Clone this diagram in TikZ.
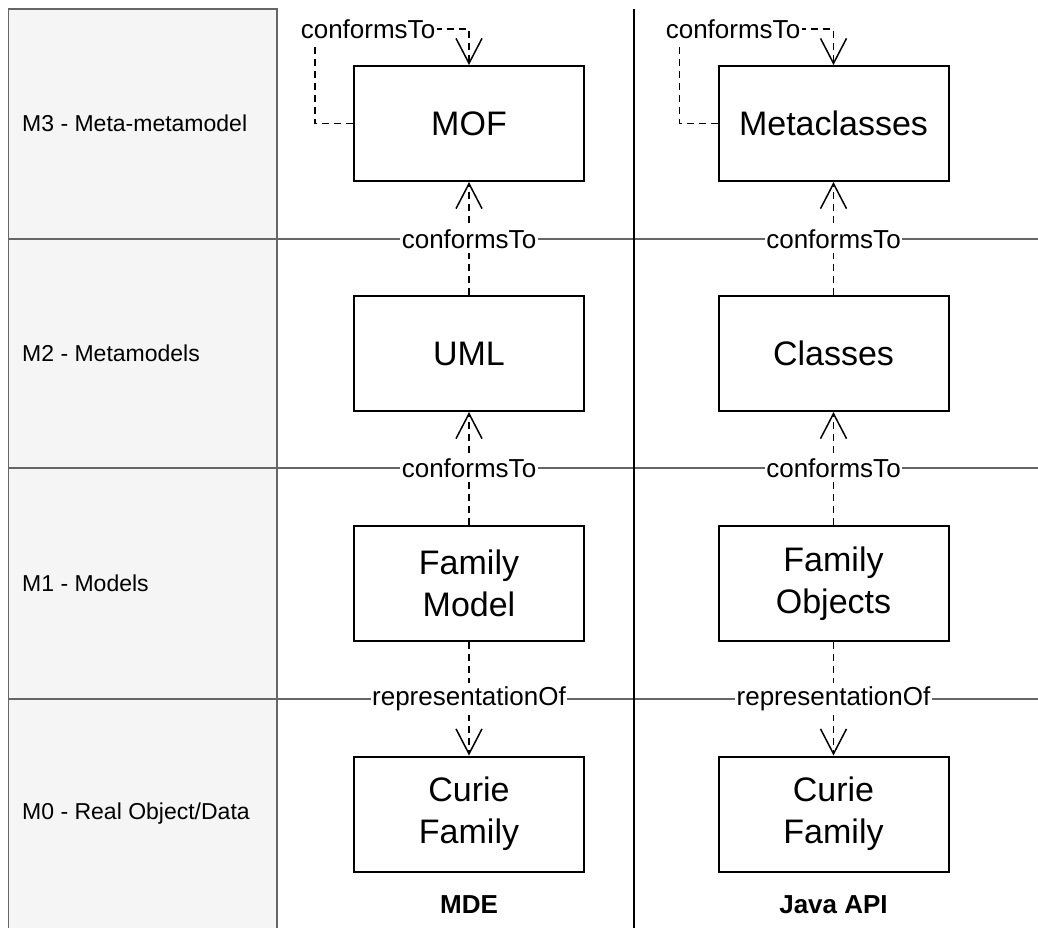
\documentclass[tikz,border=0pt]{standalone}
\usepackage{fontspec}
\setmainfont{Liberation Sans}
\usetikzlibrary{arrows.meta}
\definecolor{panelfill}{HTML}{F5F5F5}
\definecolor{panelline}{HTML}{666666}
\tikzset{
  box/.style={draw=black, line width=2pt, fill=white, minimum width=230pt, minimum height=115pt,
    inner sep=0pt, align=center, font=\fontsize{34}{42}\selectfont},
  dep/.style={draw=black, line width=1.5pt, dash pattern=on 7pt off 5pt,
    -{Straight Barb[length=25pt,width=26pt,line width=1.5pt]}},
  lab/.style={fill=white, inner xsep=1.5pt, inner ysep=4pt, font=\fontsize{26}{30}\selectfont},
  level/.style={anchor=west, inner sep=0pt, font=\fontsize{23}{27}\selectfont},
  colhead/.style={inner sep=0pt, font=\fontsize{26}{30}\selectfont\bfseries},
  zone/.style={draw=panelline, line width=1.5pt}
}
\begin{document}
\begin{tikzpicture}[x=1pt,y=-1pt]
\useasboundingbox (0,0) rectangle (1038,927);
% left panel
\path[zone, fill=panelfill] (8.5,9) rectangle (277,945);
% zone separators
\draw[zone] (8.5,239) -- (1040,239);
\draw[zone] (8.5,468) -- (1040,468);
\draw[zone] (8.5,699) -- (1040,699);
% column separator
\draw[black, line width=2pt] (634,9) -- (634,945);

% level labels
\node[level] (l3) at (22,123.5) {M3 - Meta-metamodel};
\node[level] (l2) at (22,353.5) {M2 - Metamodels};
\node[level] (l1) at (22,583.5) {M1 - Models};
\node[level] (l0) at (22,814) {M0 - Real Object/Data};

% MDE column
\node[box] (mof) at (469,123.5) {MOF};
\node[box] (uml) at (469,353.5) {UML};
\node[box] (fmodel) at (469,583.5) {Family\\Model};
\node[box] (curieA) at (469,814) {Curie\\Family};
% Java column
\node[box] (meta) at (833.5,123.5) {Metaclasses};
\node[box] (cls) at (833.5,353.5) {Classes};
\node[box] (fobj) at (833.5,583.5) {Family\\Objects};
\node[box] (curieB) at (833.5,814) {Curie\\Family};

% connectors
\draw[dep] (mof.west) -| ++(-38,-94.5) -| (mof.north);
\draw[dep] (meta.west) -| ++(-38,-94.5) -| (meta.north);
\draw[dep] (uml.north) -- (mof.south);
\draw[dep] (fmodel.north) -- (uml.south);
\draw[dep] (fmodel.south) -- (curieA.north);
\draw[dep] (cls.north) -- (meta.south);
\draw[dep] (fobj.north) -- (cls.south);
\draw[dep] (fobj.south) -- (curieB.north);

% connector labels
\node[lab] (c0a) at (368,29) {conformsTo};
\node[lab] (c0b) at (733,29) {conformsTo};
\node[lab] (c1a) at (469,239) {conformsTo};
\node[lab] (c1b) at (833.5,239) {conformsTo};
\node[lab] (c2a) at (469,468) {conformsTo};
\node[lab] (c2b) at (833.5,468) {conformsTo};
\node[lab] (r1a) at (469,699) {representationOf};
\node[lab] (r1b) at (833.5,699) {representationOf};

% column headings
\node[colhead] (mde) at (469,905) {MDE};
\node[colhead] (java) at (833.5,905) {Java API};
\end{tikzpicture}
\end{document}
